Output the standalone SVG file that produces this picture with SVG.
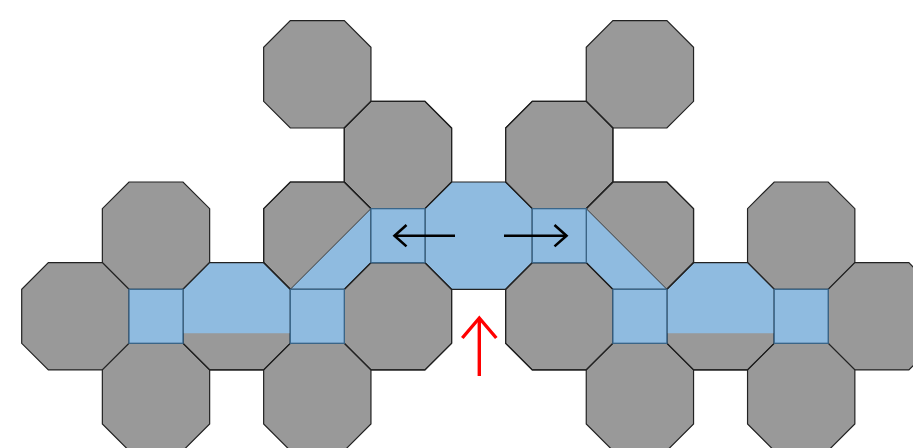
<svg xmlns="http://www.w3.org/2000/svg" xmlns:xlink="http://www.w3.org/1999/xlink" width="913" height="448" viewBox="0 0 913 448">
<style>
.g{fill:#999999;stroke:#222222;stroke-width:1.2}
.b{fill:#8fbbe0;stroke:none}
.o{fill:none;stroke:#222222;stroke-width:1.2}
.sq{fill:#8fbbe0;stroke:#3a668a;stroke-width:1.3}
.sqo{fill:none;stroke:#3a668a;stroke-width:1.3}
.dg{fill:none;stroke:#3a3a3a;stroke-width:1}
.ab{fill:none;stroke:#000000;stroke-width:2.6}
.ar{fill:none;stroke:#ff0000;stroke-width:3.4}
</style>
<defs>
<polygon id="oct" points="-27,-53.65 27,-53.65 53.65,-27 53.65,27 27,53.65 -27,53.65 -53.65,27 -53.65,-27"/>
<marker id="hb" markerUnits="userSpaceOnUse" viewBox="-16 -14 20 28" markerWidth="20" markerHeight="28" refX="0" refY="0" orient="auto" overflow="visible">
<path d="M-12,-10.7 L0,0 L-12,10.7" fill="none" stroke="#000000" stroke-width="2.6"/>
</marker>
<marker id="hr" markerUnits="userSpaceOnUse" viewBox="-24 -20 28 40" markerWidth="28" markerHeight="40" refX="0" refY="0" orient="auto" overflow="visible">
<path d="M-20,-17 L0,0 L-20,17" fill="none" stroke="#ff0000" stroke-width="3.4"/>
</marker>
</defs>

<g id="gray-octagons">
<g id="oct-3-m3"><use xlink:href="#oct" class="g" x="317.3" y="74.35"/></g>
<g id="oct-7-m3"><use xlink:href="#oct" class="g" x="639.9" y="74.35"/></g>
<g id="oct-4-m2"><use xlink:href="#oct" class="g" x="397.95" y="155"/></g>
<g id="oct-6-m2"><use xlink:href="#oct" class="g" x="559.25" y="155"/></g>
<g id="oct-1-m1"><use xlink:href="#oct" class="g" x="156" y="235.65"/></g>
<g id="oct-3-m1"><use xlink:href="#oct" class="g" x="317.3" y="235.65"/></g>
<g id="oct-7-m1"><use xlink:href="#oct" class="g" x="639.9" y="235.65"/></g>
<g id="oct-9-m1"><use xlink:href="#oct" class="g" x="801.2" y="235.65"/></g>
<g id="oct-0-0"><use xlink:href="#oct" class="g" x="75.35" y="316.3"/></g>
<g id="oct-2-0"><use xlink:href="#oct" class="g" x="236.65" y="316.3"/></g>
<g id="oct-4-0"><use xlink:href="#oct" class="g" x="397.95" y="316.3"/></g>
<g id="oct-6-0"><use xlink:href="#oct" class="g" x="559.25" y="316.3"/></g>
<g id="oct-8-0"><use xlink:href="#oct" class="g" x="720.55" y="316.3"/></g>
<g id="oct-10-0"><use xlink:href="#oct" class="g" x="881.85" y="316.3"/></g>
<g id="oct-1-1"><use xlink:href="#oct" class="g" x="156" y="396.95"/></g>
<g id="oct-3-1"><use xlink:href="#oct" class="g" x="317.3" y="396.95"/></g>
<g id="oct-7-1"><use xlink:href="#oct" class="g" x="639.9" y="396.95"/></g>
<g id="oct-9-1"><use xlink:href="#oct" class="g" x="801.2" y="396.95"/></g>
</g>

<g id="channel">
<g id="center-octagon"><use xlink:href="#oct" class="b" x="478.6" y="235.65"/></g>
<g id="channel-left-octagon"><polygon class="b" points="183,289.3 209.65,262.65 263.65,262.65 290.3,289.3 290.3,333.3 183,333.3"/></g>
<g id="channel-right-octagon"><polygon class="b" points="666.9,289.3 693.55,262.65 747.55,262.65 774.2,289.3 774.2,333.3 666.9,333.3"/></g>
<g id="channel-left-diagonal"><polygon class="b" points="370.95,208.65 370.95,262.65 344.3,289.3 290.3,289.3"/></g>
<g id="channel-right-diagonal"><polygon class="b" points="586.25,208.65 666.9,289.3 612.9,289.3 586.25,262.65"/></g>
</g>

<g id="octagon-outlines">
<use xlink:href="#oct" class="o" x="397.95" y="155"/>
<use xlink:href="#oct" class="o" x="559.25" y="155"/>
<use xlink:href="#oct" class="o" x="317.3" y="235.65"/>
<use xlink:href="#oct" class="o" x="639.9" y="235.65"/>
<use xlink:href="#oct" class="o" x="236.65" y="316.3"/>
<use xlink:href="#oct" class="o" x="397.95" y="316.3"/>
<use xlink:href="#oct" class="o" x="559.25" y="316.3"/>
<use xlink:href="#oct" class="o" x="720.55" y="316.3"/>
<use xlink:href="#oct" class="o" x="478.6" y="235.65"/>
<line class="dg" x1="290.3" y1="289.3" x2="370.95" y2="208.65"/>
<line class="dg" x1="586.25" y1="208.65" x2="666.9" y2="289.3"/>
</g>

<g id="squares">
<g id="sq-1-0"><rect class="sq" x="129" y="289.3" width="54" height="54"/></g>
<g id="sq-3-0"><rect class="sq" x="290.3" y="289.3" width="54" height="54"/></g>
<g id="sq-4-m1"><rect class="sq" x="370.95" y="208.65" width="54" height="54"/></g>
<g id="sq-6-m1"><rect class="sq" x="532.25" y="208.65" width="54" height="54"/></g>
<g id="sq-7-0"><rect class="sq" x="612.9" y="289.3" width="54" height="54"/></g>
<g id="sq-9-0"><rect class="sq" x="774.2" y="289.3" width="54" height="54"/></g>
</g>

<g id="connectors">
<line class="ab" x1="455" y1="235.7" x2="394.5" y2="235.7" marker-end="url(#hb)"/>
<line class="ab" x1="504" y1="235.7" x2="566.5" y2="235.7" marker-end="url(#hb)"/>
<line class="ar" x1="479.3" y1="376" x2="479.3" y2="318" marker-end="url(#hr)"/>
</g>
</svg>
